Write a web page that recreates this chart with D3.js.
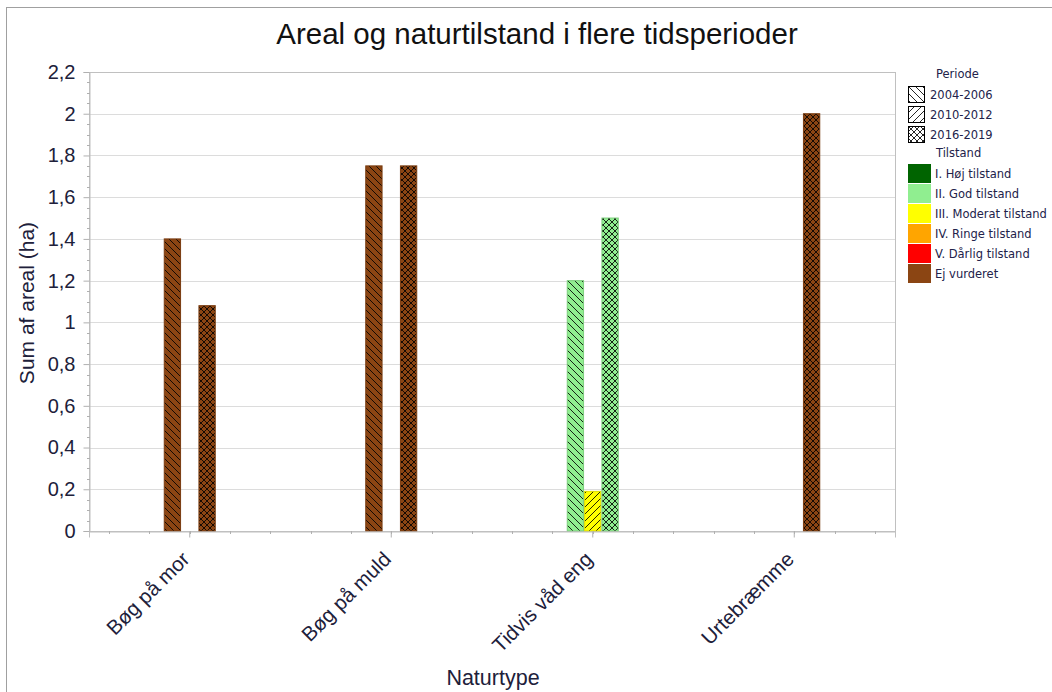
<!DOCTYPE html>
<html>
<head>
<meta charset="utf-8">
<script src="https://cdn.jsdelivr.net/npm/d3@7"></script>
<style>
  body { margin: 0; background: #fff; }
  svg { display: block; }
</style>
</head>
<body>
<svg id="chart"></svg>
<script>
var width = 1052;
var height = 692;

// data
var naturtyper = ["Bøg på mor", "Bøg på muld", "Tidvis våd eng", "Urtebræmme"];
var perioder = ["2004-2006", "2010-2012", "2016-2019"];
var tilstande = ["I. Høj tilstand", "II. God tilstand", "III. Moderat tilstand", "IV. Ringe tilstand", "V. Dårlig tilstand", "Ej vurderet"];
var tilstandFarver = ["#006400", "#90ee90", "#ffff00", "#ffa500", "#ff0000", "#8b4513"];
var yTicks = [0, 0.2, 0.4, 0.6, 0.8, 1, 1.2, 1.4, 1.6, 1.8, 2, 2.2];

var barType   = ["Bøg på mor", "Bøg på mor", "Bøg på muld", "Bøg på muld", "Tidvis våd eng", "Tidvis våd eng", "Tidvis våd eng", "Urtebræmme"];
var barPeriod = ["2004-2006", "2016-2019", "2004-2006", "2016-2019", "2004-2006", "2010-2012", "2016-2019", "2016-2019"];
var barState  = ["Ej vurderet", "Ej vurderet", "Ej vurderet", "Ej vurderet", "II. God tilstand", "III. Moderat tilstand", "II. God tilstand", "Ej vurderet"];
var barValue  = [1.4, 1.08, 1.75, 1.75, 1.2, 0.19, 1.5, 2.0];

var bars = barValue.map(function(v, i) {
    return {type: barType[i], period: barPeriod[i], state: barState[i], value: v};
});

var margin = {left: 89, top: 72, right: 895, bottom: 531};

var svg = d3.select("#chart").attr("width", width).attr("height", height);

var color = d3.scaleOrdinal().domain(tilstande).range(tilstandFarver);

var x = d3.scaleBand().domain(naturtyper).range([margin.left, margin.right]);
var xInner = d3.scaleBand().domain(perioder).range([-25.5, 25.5]).paddingInner(0.06);
var y = d3.scaleLinear().domain([0, 2.2]).range([margin.bottom, margin.top]);

// patterns: one per period and colour
var defs = svg.append("defs");
var hatchPaths = {
    "2004-2006": {size: 7, d: "M0,0L7,7M-1,6L1,8M6,-1L8,1"},
    "2010-2012": {size: 7, d: "M0,7L7,0M-1,1L1,-1M6,8L8,6"},
    "2016-2019": {size: 6, d: "M0,0L6,6M-1,5L1,7M5,-1L7,1M0,6L6,0M-1,1L1,-1M5,7L7,5"}
};

function patternId(period, fill) {
    return "p" + period.replace(/-/g, "") + fill.replace("#", "");
}

function addPattern(period, fill) {
    var h = hatchPaths[period];
    var p = defs.append("pattern")
        .attr("id", patternId(period, fill))
        .attr("patternUnits", "userSpaceOnUse")
        .attr("width", h.size)
        .attr("height", h.size);
    p.append("rect").attr("width", h.size).attr("height", h.size).attr("fill", fill);
    p.append("path").attr("d", h.d)
        .attr("stroke", "#000").attr("stroke-opacity", 0.85).attr("stroke-width", 1);
}

perioder.forEach(function(per) {
    addPattern(per, "#ffffff");
    tilstandFarver.forEach(function(c) { addPattern(per, c); });
});

// outer frame
svg.append("rect")
    .attr("x", 6.5).attr("y", 7.5)
    .attr("width", width + 10).attr("height", height + 10)
    .attr("fill", "none").attr("stroke", "#a0a0a0");

// gridlines
svg.append("g").selectAll("line")
    .data(yTicks.slice(1))
    .enter().append("line")
    .attr("x1", margin.left).attr("x2", margin.right)
    .attr("y1", function(d) { return Math.round(y(d)) + 0.5; })
    .attr("y2", function(d) { return Math.round(y(d)) + 0.5; })
    .attr("stroke", "#dcdcdc");

// plot box
svg.append("rect")
    .attr("x", margin.left + 0.5).attr("y", margin.top + 0.5)
    .attr("width", margin.right - margin.left).attr("height", margin.bottom - margin.top)
    .attr("fill", "none").attr("stroke", "#c0c0c0");

// bars
svg.append("g").selectAll("rect")
    .data(bars)
    .enter().append("rect")
    .attr("x", function(d) { return x(d.type) + x.bandwidth() / 2 + xInner(d.period); })
    .attr("width", xInner.bandwidth())
    .attr("y", function(d) { return y(d.value); })
    .attr("height", function(d) { return y(0) - y(d.value); })
    .attr("fill", function(d) { return "url(#" + patternId(d.period, color(d.state)) + ")"; })
    .attr("stroke", function(d) { return d3.color(color(d.state)).darker(0.4); })
    .attr("stroke-width", 1);

// y axis
var yAxis = svg.append("g")
    .attr("transform", "translate(" + (margin.left + 0.5) + ",0)")
    .call(d3.axisLeft(y).tickValues(yTicks).tickSize(6).tickPadding(8)
        .tickFormat(function(d) { return String(d).replace(".", ","); }));
yAxis.select(".domain").attr("stroke", "#c0c0c0");
yAxis.selectAll(".tick line").attr("stroke", "#b0b0b0");
yAxis.selectAll("text")
    .style("font-family", "Liberation Sans, Arial, sans-serif")
    .style("font-size", "20px").attr("fill", "#20203a");

var yMinor = d3.range(0, 2.2, 0.05).filter(function(d) { return Math.abs(d * 5 - Math.round(d * 5)) > 0.01; });
svg.append("g").selectAll("line")
    .data(yMinor)
    .enter().append("line")
    .attr("x1", margin.left - 2).attr("x2", margin.left + 1)
    .attr("y1", function(d) { return Math.round(y(d)) + 0.5; })
    .attr("y2", function(d) { return Math.round(y(d)) + 0.5; })
    .attr("stroke", "#b0b0b0");

// x axis
var xAxis = svg.append("g")
    .attr("transform", "translate(0," + (margin.bottom + 0.5) + ")")
    .call(d3.axisBottom(x).tickSize(6).tickPadding(8));
xAxis.select(".domain").attr("stroke", "#c0c0c0");
xAxis.selectAll(".tick line").attr("stroke", "#b0b0b0");
xAxis.selectAll("text")
    .style("font-family", "Liberation Sans, Arial, sans-serif")
    .style("font-size", "20.5px").attr("fill", "#20203a")
    .attr("text-anchor", "end")
    .attr("y", 0).attr("dy", 0)
    .attr("transform", "translate(1,29) rotate(-45)");

var step = x.bandwidth() / 5;
var xMinor = d3.range(20).map(function(j) { return margin.left + step * (j + 0.5); });
svg.append("g").selectAll("line")
    .data(xMinor)
    .enter().append("line")
    .attr("x1", function(d) { return Math.round(d) + 0.5; })
    .attr("x2", function(d) { return Math.round(d) + 0.5; })
    .attr("y1", margin.bottom).attr("y2", margin.bottom + 3)
    .attr("stroke", "#b0b0b0");

// titles
svg.append("text")
    .attr("x", 537).attr("y", 44)
    .attr("text-anchor", "middle")
    .style("font-family", "Liberation Sans, Arial, sans-serif")
    .style("font-size", "29.5px").attr("fill", "#111")
    .text("Areal og naturtilstand i flere tidsperioder");

svg.append("text")
    .attr("x", 493).attr("y", 685)
    .attr("text-anchor", "middle")
    .style("font-family", "Liberation Sans, Arial, sans-serif")
    .style("font-size", "21.5px").attr("fill", "#20203a")
    .text("Naturtype");

svg.append("text")
    .attr("transform", "translate(34,303) rotate(-90)")
    .attr("text-anchor", "middle")
    .style("font-family", "Liberation Sans, Arial, sans-serif")
    .style("font-size", "21px").attr("fill", "#20203a")
    .text("Sum af areal (ha)");

// legend
var legend = svg.append("g").attr("transform", "translate(908,0)");
var legendFont = "DejaVu Sans, Verdana, sans-serif";

legend.append("text").attr("x", 28).attr("y", 78)
    .style("font-family", legendFont).style("font-size", "11.5px").attr("fill", "#22224a")
    .text("Periode");

var perRow = legend.selectAll(".per").data(perioder).enter().append("g")
    .attr("transform", function(d, i) { return "translate(0," + (86 + i * 20) + ")"; });
perRow.append("rect")
    .attr("x", 0.5).attr("y", 0.5).attr("width", 16).attr("height", 16)
    .attr("fill", function(d) { return "url(#" + patternId(d, "#ffffff") + ")"; })
    .attr("stroke", "#000");
perRow.append("text").attr("x", 22).attr("y", 12.5)
    .style("font-family", legendFont).style("font-size", "11.5px").attr("fill", "#22224a")
    .text(function(d) { return d; });

legend.append("text").attr("x", 28).attr("y", 157)
    .style("font-family", legendFont).style("font-size", "11.5px").attr("fill", "#22224a")
    .text("Tilstand");

var stRow = legend.selectAll(".st").data(tilstande).enter().append("g")
    .attr("transform", function(d, i) { return "translate(0," + (164 + i * 20) + ")"; });
stRow.append("rect")
    .attr("width", 23).attr("height", 19)
    .attr("fill", function(d) { return color(d); });
stRow.append("text").attr("x", 27).attr("y", 13.5)
    .style("font-family", legendFont).style("font-size", "11.5px").attr("fill", "#22224a")
    .text(function(d) { return d; });
</script>
</body>
</html>
